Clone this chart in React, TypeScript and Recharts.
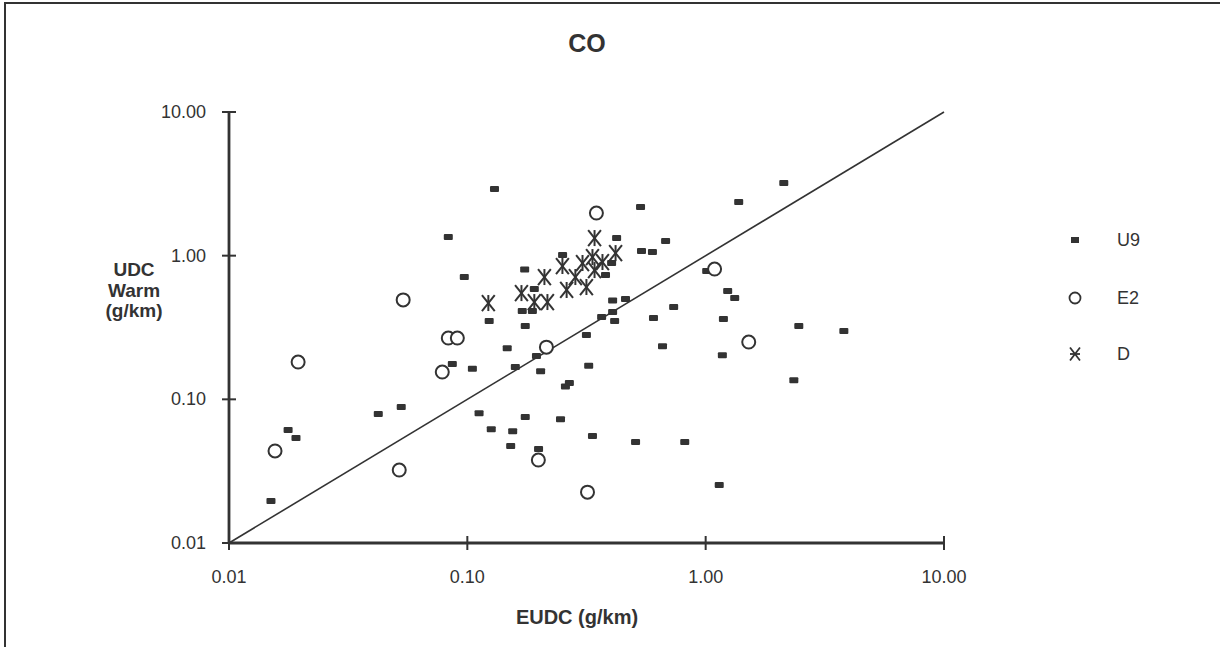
import React from 'react';
import { ScatterChart, Scatter, XAxis, YAxis, ReferenceLine } from 'recharts';

const INK = '#333333';
const FONT = '"Liberation Sans", Arial, Helvetica, sans-serif';

const AXIS_TICKS = [0.01, 0.1, 1, 10];

const U9_EUDC = [0.015, 0.0177, 0.0191, 0.0423, 0.0528, 0.0865, 0.0832, 0.0971, 0.105, 0.112, 0.1235, 0.126, 0.13, 0.147, 0.152, 0.155, 0.159, 0.17, 0.1875, 0.174, 0.175, 0.175, 0.191, 0.195, 0.199, 0.203, 0.246, 0.251, 0.258, 0.268, 0.316, 0.323, 0.335, 0.366, 0.38, 0.403, 0.407, 0.407, 0.415, 0.423, 0.461, 0.508, 0.533, 0.538, 0.598, 0.604, 0.659, 0.679, 0.734, 0.817, 1.01, 1.14, 1.187, 1.175, 1.237, 1.324, 1.376, 2.127, 2.344, 2.459, 3.8];
const U9_UDC = [0.0196, 0.0612, 0.0538, 0.079, 0.0884, 0.176, 1.348, 0.71, 0.163, 0.08, 0.351, 0.062, 2.91, 0.227, 0.0473, 0.06, 0.168, 0.412, 0.412, 0.8, 0.324, 0.0752, 0.586, 0.2, 0.0451, 0.157, 0.0728, 1.01, 0.123, 0.13, 0.28, 0.171, 0.0556, 0.374, 0.733, 0.889, 0.488, 0.405, 0.351, 1.326, 0.5, 0.0505, 2.18, 1.077, 1.06, 0.368, 0.2345, 1.264, 0.439, 0.0505, 0.781, 0.0253, 0.362, 0.203, 0.567, 0.508, 2.36, 3.2, 0.136, 0.324, 0.299];

const E2_EUDC = [0.0156, 0.0195, 0.0518, 0.0538, 0.0785, 0.0832, 0.0908, 0.1986, 0.2147, 0.3193, 0.348, 1.09, 1.516];
const E2_UDC = [0.0437, 0.1818, 0.0322, 0.492, 0.1548, 0.267, 0.267, 0.0378, 0.2307, 0.0226, 1.98, 0.807, 0.2504];

const D_EUDC = [0.1225, 0.1687, 0.191, 0.2168, 0.2106, 0.2506, 0.261, 0.284, 0.3043, 0.316, 0.3418, 0.335, 0.3418, 0.4188, 0.369];
const D_UDC = [0.468, 0.549, 0.4755, 0.4755, 0.71, 0.847, 0.577, 0.71, 0.889, 0.605, 0.794, 0.978, 1.326, 1.042, 0.903];

const toPoints = (xs: number[], ys: number[]) => xs.map((x, i) => ({ x, y: ys[i] }));

const u9Data = toPoints(U9_EUDC, U9_UDC);
const e2Data = toPoints(E2_EUDC, E2_UDC);
const dData = toPoints(D_EUDC, D_UDC);

const SquareMark = (p: any) => (
  <rect x={p.cx - 4.5} y={p.cy - 3} width={9} height={6} rx={1} fill={INK} />
);
const CircleMark = (p: any) => (
  <circle cx={p.cx} cy={p.cy} r={6.5} fill="#fff" stroke={INK} strokeWidth={2} />
);
const StarMark = (p: any) => {
  const s = 8;
  return (
    <g stroke={INK} strokeWidth={2}>
      <line x1={p.cx - s * 0.8} y1={p.cy - s} x2={p.cx + s * 0.8} y2={p.cy + s} />
      <line x1={p.cx + s * 0.8} y1={p.cy - s} x2={p.cx - s * 0.8} y2={p.cy + s} />
      <line x1={p.cx} y1={p.cy - s} x2={p.cx} y2={p.cy + s} />
    </g>
  );
};

const fmt = (v: number) => v.toFixed(2);

const XTick = (props: any) => {
  const { x, y, payload } = props;
  return (
    <g>
      <line x1={x} x2={x} y1={y - 7} y2={y + 7} stroke={INK} strokeWidth={2} />
      <text x={x} y={y + 40} textAnchor="middle" fill={INK} fontFamily={FONT} fontSize={18}>
        {fmt(payload.value)}
      </text>
    </g>
  );
};

const YTick = (props: any) => {
  const { x, y, payload } = props;
  return (
    <g>
      <line x1={x - 7} x2={x + 7} y1={y} y2={y} stroke={INK} strokeWidth={2} />
      <text x={x - 23} y={y + 6} textAnchor="end" fill={INK} fontFamily={FONT} fontSize={18}>
        {fmt(payload.value)}
      </text>
    </g>
  );
};

const textBase: React.CSSProperties = {
  position: 'absolute',
  fontFamily: FONT,
  color: INK,
  whiteSpace: 'nowrap',
};

const legendRows = [
  { label: 'U9', y: 240, kind: 'square' },
  { label: 'E2', y: 298, kind: 'circle' },
  { label: 'D', y: 354, kind: 'star' },
];

export default function App() {
  return (
    <div
      style={{
        position: 'fixed',
        left: 0,
        top: 0,
        width: 1220,
        height: 647,
        background: '#fff',
        overflow: 'hidden',
      }}
    >
      <div
        style={{
          position: 'absolute',
          left: 4,
          top: 2,
          width: 1220,
          height: 660,
          borderTop: `2px solid ${INK}`,
          borderLeft: `2px solid ${INK}`,
        }}
      />
      <div style={{ position: 'absolute', left: 0, top: 0 }}>
        <ScatterChart
          width={1220}
          height={647}
          margin={{ top: 112, right: 276, bottom: 64, left: 169 }}
        >
          <XAxis
            type="number"
            dataKey="x"
            scale="log"
            domain={[0.01, 10]}
            ticks={AXIS_TICKS}
            allowDataOverflow
            height={40}
            tickSize={0}
            tickMargin={0}
            tickLine={false}
            tick={<XTick />}
            axisLine={{ stroke: INK, strokeWidth: 2.8 }}
            interval={0}
          />
          <YAxis
            type="number"
            dataKey="y"
            scale="log"
            domain={[0.01, 10]}
            ticks={AXIS_TICKS}
            allowDataOverflow
            width={60}
            tickSize={0}
            tickMargin={0}
            tickLine={false}
            tick={<YTick />}
            axisLine={{ stroke: INK, strokeWidth: 2.8 }}
            interval={0}
          />
          <ReferenceLine
            segment={[
              { x: 0.01, y: 0.01 },
              { x: 10, y: 10 },
            ]}
            stroke={INK}
            strokeWidth={1.6}
            ifOverflow="visible"
          />
          <Scatter name="U9" data={u9Data} shape={SquareMark} isAnimationActive={false} />
          <Scatter name="E2" data={e2Data} shape={CircleMark} isAnimationActive={false} />
          <Scatter name="D" data={dData} shape={StarMark} isAnimationActive={false} />
        </ScatterChart>
      </div>

      <div style={{ ...textBase, left: 0, width: 1174, top: 29, textAlign: 'center', fontSize: 25, fontWeight: 'bold' }}>
        CO
      </div>

      <div
        style={{
          ...textBase,
          left: 84,
          width: 100,
          top: 260,
          textAlign: 'center',
          fontSize: 19,
          fontWeight: 'bold',
          lineHeight: '20.5px',
        }}
      >
        UDC
        <br />
        Warm
        <br />
        (g/km)
      </div>

      <div style={{ ...textBase, left: 477, width: 200, top: 606, textAlign: 'center', fontSize: 20, fontWeight: 'bold' }}>
        EUDC (g/km)
      </div>

      <svg style={{ position: 'absolute', left: 0, top: 0 }} width={1220} height={647} pointerEvents="none">
        {legendRows.map((r) => {
          const cx = 1075;
          const cy = r.y;
          let mark;
          if (r.kind === 'square') mark = <rect x={cx - 4} y={cy - 3} width={8} height={6} fill={INK} />;
          else if (r.kind === 'circle') mark = <circle cx={cx} cy={cy} r={5.5} fill="#fff" stroke={INK} strokeWidth={1.8} />;
          else
            mark = (
              <g stroke={INK} strokeWidth={1.8}>
                <line x1={cx - 5} y1={cy - 6.5} x2={cx + 5} y2={cy + 6.5} />
                <line x1={cx + 5} y1={cy - 6.5} x2={cx - 5} y2={cy + 6.5} />
                <line x1={cx - 5} y1={cy} x2={cx + 5} y2={cy} />
              </g>
            );
          return (
            <g key={r.label}>
              {mark}
              <text x={1117} y={cy + 6} fill={INK} fontFamily={FONT} fontSize={18}>
                {r.label}
              </text>
            </g>
          );
        })}
      </svg>
    </div>
  );
}
